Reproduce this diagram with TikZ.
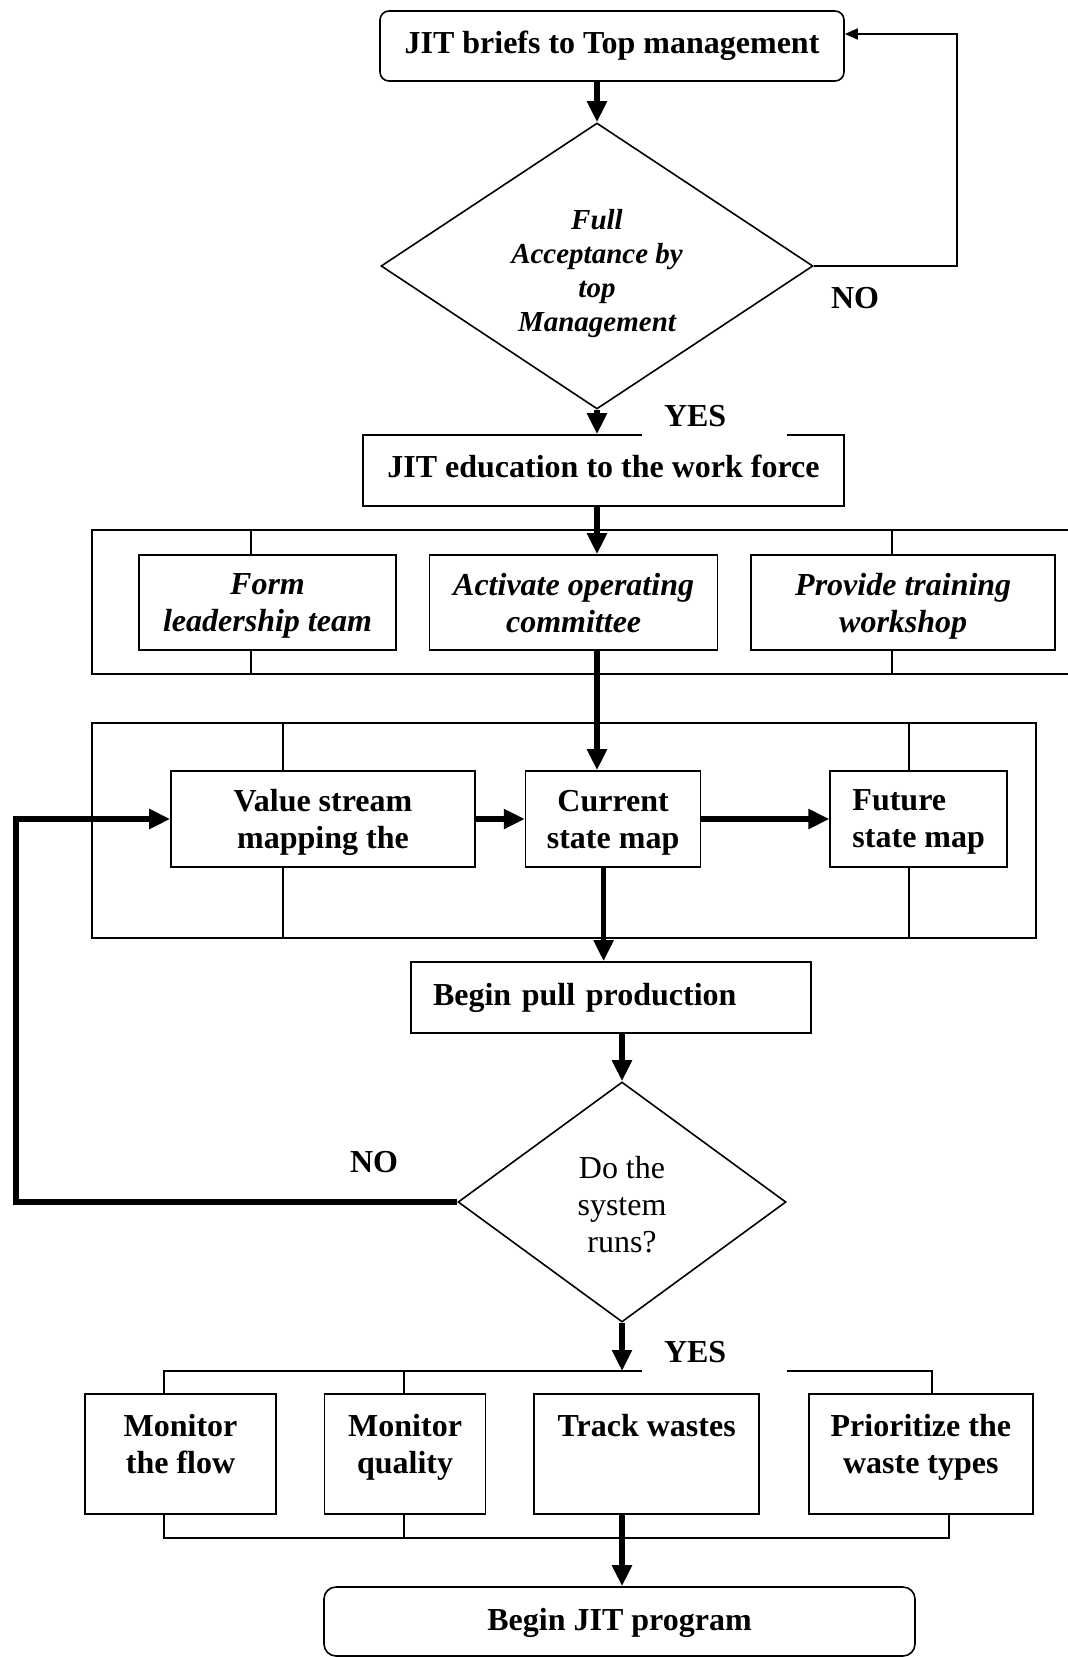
\documentclass[tikz,border=0pt]{standalone}
\usepackage{fontspec}
\setmainfont{Liberation Serif}
\usetikzlibrary{arrows.meta,positioning,calc,shapes.geometric}

\begin{document}
\begin{tikzpicture}[x=1pt, y=-1pt,
    box/.style={draw, line width=1.6pt, inner sep=0pt, align=center, text depth=0pt,
                font=\bfseries\fontsize{32}{37}\selectfont},
    ibox/.style={box, font=\bfseries\itshape\fontsize{32}{37}\selectfont},
    rbox/.style={box, rounded corners=9pt},
    bbox/.style={box, minimum height=120pt, text depth=21pt},
    dec/.style={diamond, draw, line width=1.6pt, aspect=1.5, inner sep=0pt, align=center},
    lbl/.style={font=\bfseries\fontsize{32}{37}\selectfont},
    gap/.style={lbl, fill=white, text width=101pt, inner xsep=22pt, inner ysep=0pt,
                align=left, text height=22pt, text depth=14pt},
    ln/.style={line width=1.6pt},
    arr/.style={-{Triangle[length=21pt, width=19pt]}, line width=5.5pt},
    tarr/.style={-{Triangle[length=13pt, width=11pt]}, line width=1.6pt}]
    \useasboundingbox (0,0) rectangle (1068,1657);
    \draw[ln] (1070,530) -- (92,530) -- (92,674) -- (1070,674);
    \draw[ln] (251,530) -- (251,555);
    \draw[ln] (251,650) -- (251,674);
    \draw[ln] (892,530) -- (892,555);
    \draw[ln] (892,650) -- (892,674);
    \draw[ln] (92,723) rectangle (1036,938);
    \draw[ln] (283,723) -- (283,771);
    \draw[ln] (283,867) -- (283,938);
    \draw[ln] (909,723) -- (909,771);
    \draw[ln] (909,867) -- (909,938);
    \draw[ln] (164,1394) -- (164,1371) -- (932,1371) -- (932,1394);
    \draw[ln] (404,1371) -- (404,1394);
    \draw[ln] (164,1514) -- (164,1538) -- (949,1538) -- (949,1514);
    \draw[ln] (404,1514) -- (404,1538);
    \node[rbox, minimum width=464pt, minimum height=70pt, text depth=7pt] (top) at (612,46) {JIT briefs to Top management};
    \node[dec, minimum width=432pt, minimum height=286pt, text height=137pt,
          font=\bfseries\itshape\fontsize{29}{34}\selectfont] (dia1) at (597,266)
      {Full\\Acceptance by\\top\\Management};
    \node[box, minimum width=481pt, minimum height=71pt, text depth=8pt] (edu) at (603.5,470.5) {JIT education to the work force};
    \node[ibox, minimum width=257pt, minimum height=95pt] (form) at (267.5,602.5) {Form\\leadership team};
    \node[ibox, minimum width=288pt, minimum height=95pt, right=32pt of form] (act) {Activate operating\\committee};
    \node[ibox, minimum width=304pt, minimum height=95pt, right=32pt of act] (prov) {Provide training\\workshop};
    \node[box, minimum width=304pt, minimum height=96pt] (val) at (323,819) {Value stream\\mapping the};
    \node[box, minimum width=175pt, minimum height=96pt, right=49pt of val] (cur) {Current\\state map};
    \node[box, minimum width=177pt, minimum height=96pt, right=128pt of cur, align=left] (fut) {Future\\state map};
    \node[box, minimum height=71pt, text width=356pt, inner xsep=22pt, align=left, text depth=7pt] (pull) at (611,997.5) {Begin pull production};
    \node[dec, minimum width=328pt, minimum height=240pt, aspect=1.4, text height=102pt,
          font=\fontsize{32}{37}\selectfont] (dia2) at (622,1202)
      {Do the\\system\\runs?};
    \coordinate (bus) at (622,1371);
    \node[bbox, minimum width=191pt] (flow) at (180.5,1454) {Monitor\\the flow};
    \node[bbox, minimum width=161pt, right=47pt of flow] (qual) {Monitor\\quality};
    \node[bbox, minimum width=225pt, right=47pt of qual] (track) {Track wastes\\\mbox{}};
    \node[bbox, minimum width=224pt, right=48pt of track] (prio) {Prioritize the\\waste types};
    \node[rbox, rounded corners=12pt, minimum width=591pt, minimum height=69pt, text depth=4pt] (jit) at (619.5,1621.5) {Begin JIT program};
    \node[lbl] (no1) at (855,298) {NO};
    \node[lbl] (no2) at (374,1162) {NO};
    \node[gap] (yes1) at (714.5,422.5) {YES};
    \node[gap] (yes2) at (714.5,1358.5) {YES};
    \draw[arr] (top.south -| dia1.north) -- (dia1.north);
    \draw[arr] (dia1.south) -- (dia1.south |- edu.north);
    \draw[tarr] (dia1.east) -- ++(143,0) |- ([yshift=12pt]top.east);
    \draw[arr] (edu.south -| dia1.north) -- (act.north -| dia1.north);
    \draw[arr] (act.south -| dia1.north) -- (cur.north -| dia1.north);
    \draw[arr] (val) -- (cur);
    \draw[arr] (cur) -- (fut);
    \draw[arr] ([xshift=-9.5pt]cur.south) -- ([xshift=-9.5pt]cur.south |- pull.north);
    \draw[arr] (pull.south -| dia2.north) -- (dia2.north);
    \draw[arr, line width=6.5pt] (dia2.west) -- ++(-441,0) |- (val.west);
    \draw[arr] (dia2.south) -- (bus);
    \draw[arr] (track.south -| dia2.south) -- (jit.north -| dia2.south);
  \end{tikzpicture}
\end{document}
